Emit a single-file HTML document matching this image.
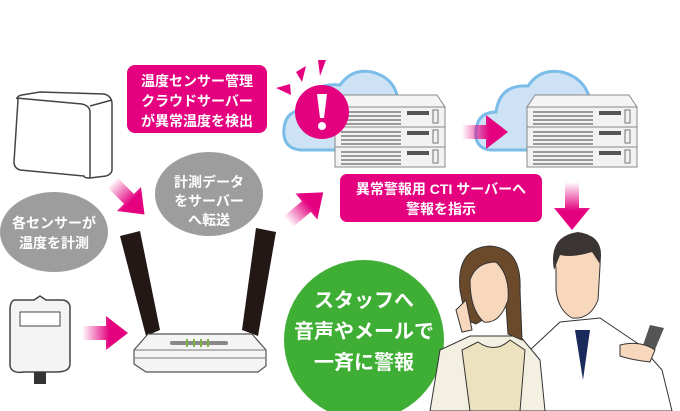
<!DOCTYPE html>
<html><head><meta charset="utf-8"><style>
html,body{margin:0;padding:0;background:#fff;width:680px;height:411px;overflow:hidden}
svg{display:block}
text{font-family:"Liberation Sans","Noto Sans CJK JP",sans-serif;font-weight:bold}
</style></head><body>
<svg width="680" height="411" viewBox="0 0 680 411" xmlns="http://www.w3.org/2000/svg" style="overflow:hidden">
<defs>
<linearGradient id="gr" x1="0" x2="1"><stop offset="0" stop-color="#e4007f" stop-opacity="0"/><stop offset="0.6" stop-color="#e4007f"/></linearGradient>
<linearGradient id="gd" x1="0" y1="0" x2="0" y2="1"><stop offset="0" stop-color="#e4007f" stop-opacity="0"/><stop offset="0.6" stop-color="#e4007f"/></linearGradient>
<g id="arrow"><path d="M0,-7 L24,-7 L24,-17 L46,0 L24,17 L24,7 L0,7Z" fill="url(#gr)"/></g>
<g id="server">
<path d="M8,0 L102,0 L110,12 L0,12Z" fill="#f4f4f4" stroke="#888"/>
<g id="unit"><rect x="0" y="12" width="110" height="20" fill="#f2f2f2" stroke="#888"/>
<g fill="#999"><rect x="6" y="16" width="60" height="2"/><rect x="6" y="20" width="60" height="2"/><rect x="6" y="24" width="60" height="2"/><rect x="6" y="28" width="60" height="2"/></g>
<rect x="72" y="16" width="22" height="4" fill="#555"/><rect x="98" y="15" width="5" height="13" fill="none" stroke="#777"/></g>
<use href="#unit" y="20"/><use href="#unit" y="40"/>
</g>
</defs>
<!-- sensor box -->
<path d="M18,100 Q16,96 22,95 L40,92 L104,94 Q112,96 112,104 L112,170 Q112,174 106,176 L90,178 Q84,178 84,176 L20,170 Q14,168 14,162 Z" fill="#fff" stroke="#444" stroke-width="1.5"/>
<path d="M16,98 L82,104 Q90,106 90,112 L90,178 M90,106 L112,100" fill="none" stroke="#444" stroke-width="1.5"/>
<!-- pink label 1 -->
<rect x="127" y="65" width="140" height="68" rx="8" fill="#e4007f"/>
<text fill="#fff" font-size="14" text-anchor="middle"><tspan x="197" y="86">温度センサー管理</tspan><tspan x="197" y="106">クラウドサーバー</tspan><tspan x="197" y="126">が異常温度を検出</tspan></text>
<!-- gray ellipses -->
<ellipse cx="54" cy="232" rx="54" ry="40" fill="#9d9d9d"/>
<text fill="#fff" font-size="14" text-anchor="middle"><tspan x="54" y="228">各センサーが</tspan><tspan x="54" y="248">温度を計測</tspan></text>
<ellipse cx="209" cy="194" rx="54" ry="42" fill="#9d9d9d"/>
<text fill="#fff" font-size="14" text-anchor="middle"><tspan x="209" y="187">計測データ</tspan><tspan x="209" y="206">をサーバー</tspan><tspan x="209" y="225">へ転送</tspan></text>
<!-- clouds -->
<path d="M300,150 Q282,148 284,128 Q286,110 305,110 Q310,82 340,85 Q352,68 372,72 Q395,78 398,100 L398,150Z" fill="#cde3f5" stroke="#7bbde8" stroke-width="3"/>
<path d="M490,150 Q474,148 476,130 Q478,112 496,112 Q500,84 528,86 Q540,68 562,72 Q585,78 590,100 L590,150Z" fill="#cde3f5" stroke="#7bbde8" stroke-width="3"/>
<use href="#server" transform="translate(335,95)"/>
<use href="#server" transform="translate(527,95)"/>
<!-- arrows -->
<use href="#arrow" transform="translate(112,182) rotate(45)"/>
<use href="#arrow" transform="translate(288,222) rotate(-40)"/>
<use href="#arrow" transform="translate(462,132)"/>
<use href="#arrow" transform="translate(82,333)"/>
<path d="M565,182 L579,182 L579,208 L590,208 L572,230 L554,208 L565,208Z" fill="url(#gd)"/>
<!-- exclamation -->
<circle cx="322" cy="112" r="27" fill="#e4007f"/>
<path d="M317,94 L327,94 L324,118 L320,118Z" fill="#fff"/><circle cx="322" cy="126" r="4" fill="#fff"/>
<path d="M276,88 L290,84 L291,95Z M296,72 L306,66 L302,82Z M318,60 L326,60 L320,76Z" fill="#e4007f"/>
<!-- pink label 2 -->
<rect x="340" y="174" width="202" height="48" rx="7" fill="#e4007f"/>
<text fill="#fff" font-size="14" text-anchor="middle"><tspan x="441" y="194">異常警報用 CTI サーバーへ</tspan><tspan x="441" y="214">警報を指示</tspan></text>
<!-- router -->
<path d="M120,236 L140,231 L160,330 L146,336Z" fill="#231815"/>
<path d="M256,228 L276,232 L258,336 L242,330Z" fill="#231815"/>
<path d="M148,334 L252,334 L266,350 L266,366 L258,372 L146,372 L134,364 L134,350Z" fill="#f4f4f4" stroke="#555" stroke-width="1.2"/>
<path d="M134,350 L266,350 M134,358 L266,358" stroke="#777"/>
<path d="M172,343 L226,343" stroke="#888" stroke-width="4" stroke-linecap="round"/>
<g fill="#7cb342"><rect x="186" y="339" width="2" height="8"/><rect x="193" y="339" width="2" height="8"/><rect x="200" y="339" width="2" height="8"/><rect x="207" y="339" width="2" height="8"/></g>
<!-- sensor 2 -->
<path d="M40,296 L34,300 L14,300 Q10,302 10,310 L10,366 Q12,374 24,372 L56,372 Q70,372 70,364 L70,306 Q68,300 62,300 L46,300Z" fill="#f4f4f4" stroke="#444" stroke-width="1.5"/>
<rect x="20" y="312" width="40" height="14" fill="#fff" stroke="#444"/>
<rect x="34" y="372" width="12" height="12" fill="#333"/>
<!-- green ellipse -->
<ellipse cx="364" cy="340" rx="80" ry="80" fill="#3fae35"/>
<text fill="#fff" font-size="20" text-anchor="middle"><tspan x="364" y="307">スタッフへ</tspan><tspan x="364" y="338">音声やメールで</tspan><tspan x="364" y="369">一斉に警報</tspan></text>
<!-- man -->
<path d="M520,411 L530,350 L560,322 L600,318 L640,345 L662,370 L672,411Z" fill="#fff" stroke="#333"/>
<path d="M575,330 L583,380 L590,330Z" fill="#1a2a5a"/>
<path d="M556,268 Q550,240 575,236 Q602,236 600,266 L598,300 Q590,320 572,318 Q558,310 556,290Z" fill="#f8d8bd" stroke="#333"/>
<path d="M554,270 Q548,236 578,232 Q606,236 600,264 L592,252 Q572,258 560,255Z" fill="#3a3433"/>
<path d="M650,325 L664,328 L654,352 L642,348Z" fill="#555"/>
<path d="M620,345 Q640,340 655,350 L650,362 Q632,360 620,356Z" fill="#f8d8bd" stroke="#333"/>
<!-- woman -->
<path d="M430,411 L440,350 L470,336 L520,336 L540,360 L545,411Z" fill="#f3f0e2" stroke="#333"/>
<path d="M462,350 L470,411 L520,411 L525,350 L510,340 Q495,354 478,342Z" fill="#ede2bf" stroke="#333"/>
<path d="M460,290 Q456,248 490,246 Q522,248 520,290 L522,340 L508,334 L506,306 L476,324 L466,320Z" fill="#6b4a2b" stroke="#333"/>
<path d="M470,280 Q476,262 496,262 Q510,275 508,300 Q500,324 484,322 Q470,310 470,280Z" fill="#f8d8bd" stroke="#333"/>
<path d="M456,310 L466,300 L472,330 L462,332Z" fill="#f8d8bd" stroke="#333"/>
</svg>
</body></html>
